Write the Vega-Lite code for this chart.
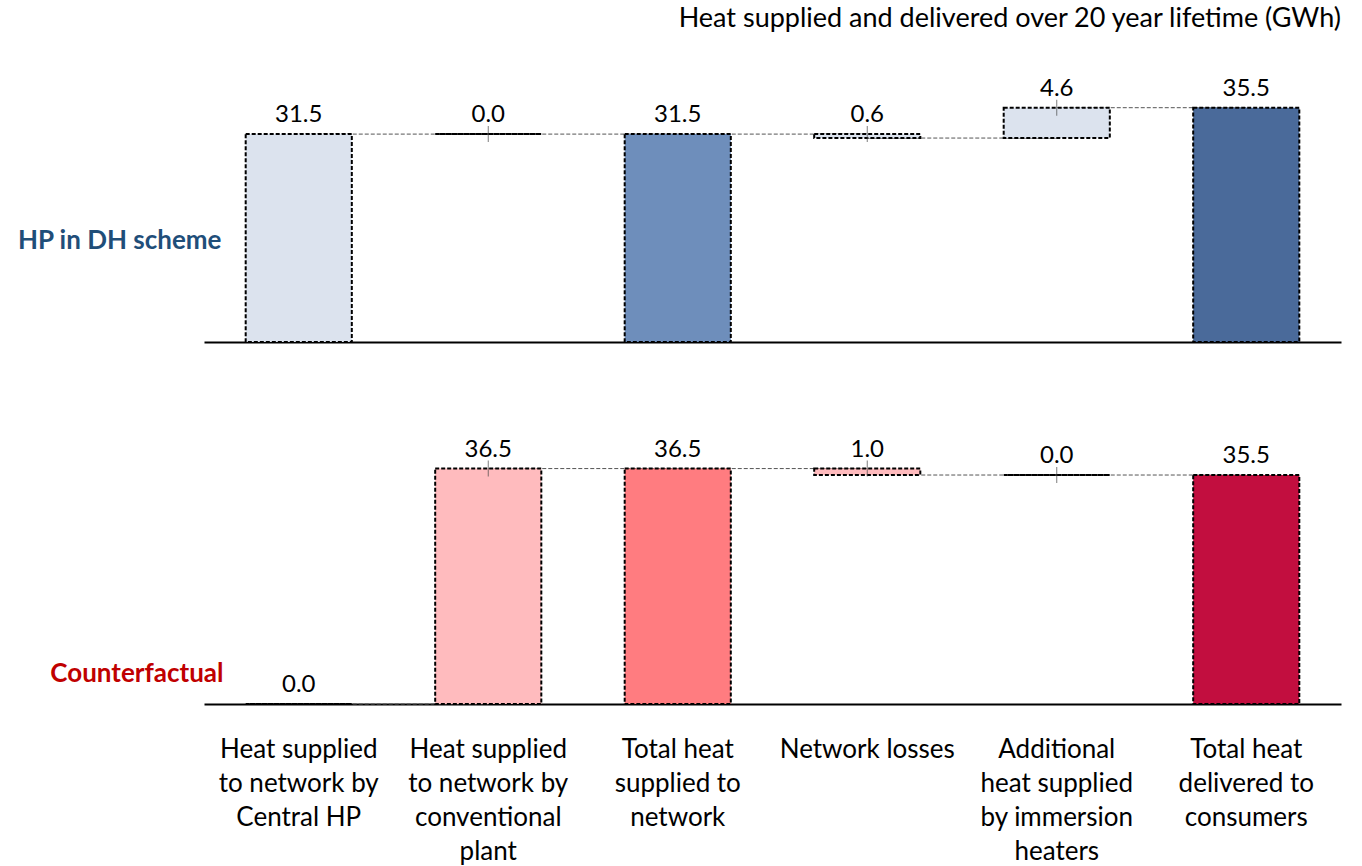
{
  "$schema": "https://vega.github.io/schema/vega-lite/v6.json",
  "padding": {"left": 16, "top": 4, "right": 20, "bottom": 5},
  "spacing": 94,
  "title": {"text": "Heat supplied and delivered over 20 year lifetime (GWh)", "anchor": "end", "fontSize": 27, "font": "Lato", "fontWeight": "normal", "color": "#000000", "offset": 44},
  "config": {"view": {"stroke": null}, "font": "Lato"},
  "data": {"values": [
    {"panel": "HP", "cat": "Heat supplied|to network by|Central HP", "next": "Heat supplied|to network by|conventional|plant", "start": 0, "end": 31.5, "top": 31.5, "label": "31.5", "kind": "HP step", "floating": "no"},
    {"panel": "HP", "cat": "Heat supplied|to network by|conventional|plant", "next": "Total heat|supplied to|network", "start": 31.5, "end": 31.5, "top": 31.5, "label": "0.0", "kind": "HP step", "floating": "yes"},
    {"panel": "HP", "cat": "Total heat|supplied to|network", "next": "Network losses", "start": 0, "end": 31.5, "top": 31.5, "label": "31.5", "kind": "HP subtotal", "floating": "no"},
    {"panel": "HP", "cat": "Network losses", "next": "Additional|heat supplied|by immersion|heaters", "start": 31.5, "end": 30.9, "top": 31.5, "label": "0.6", "kind": "HP step", "floating": "yes"},
    {"panel": "HP", "cat": "Additional|heat supplied|by immersion|heaters", "next": "Total heat|delivered to|consumers", "start": 30.9, "end": 35.5, "top": 35.5, "label": "4.6", "kind": "HP step", "floating": "yes"},
    {"panel": "HP", "cat": "Total heat|delivered to|consumers", "next": null, "start": 0, "end": 35.5, "top": 35.5, "label": "35.5", "kind": "HP total", "floating": "no"},
    {"panel": "CF", "cat": "Heat supplied|to network by|Central HP", "next": "Heat supplied|to network by|conventional|plant", "start": 0, "end": 0, "top": 0, "label": "0.0", "kind": "CF step", "floating": "no"},
    {"panel": "CF", "cat": "Heat supplied|to network by|conventional|plant", "next": "Total heat|supplied to|network", "start": 0, "end": 36.5, "top": 36.5, "label": "36.5", "kind": "CF step", "floating": "yes"},
    {"panel": "CF", "cat": "Total heat|supplied to|network", "next": "Network losses", "start": 0, "end": 36.5, "top": 36.5, "label": "36.5", "kind": "CF subtotal", "floating": "no"},
    {"panel": "CF", "cat": "Network losses", "next": "Additional|heat supplied|by immersion|heaters", "start": 36.5, "end": 35.5, "top": 36.5, "label": "1.0", "kind": "CF step", "floating": "yes"},
    {"panel": "CF", "cat": "Additional|heat supplied|by immersion|heaters", "next": "Total heat|delivered to|consumers", "start": 35.5, "end": 35.5, "top": 35.5, "label": "0.0", "kind": "CF step", "floating": "yes"},
    {"panel": "CF", "cat": "Total heat|delivered to|consumers", "next": null, "start": 0, "end": 35.5, "top": 35.5, "label": "35.5", "kind": "CF total", "floating": "no"}
  ]},
  "vconcat": [
    {
      "width": 1137,
      "height": 264,
      "transform": [{"filter": "datum.panel === 'HP'"}],
      "encoding": {
        "x": {"field": "cat", "type": "nominal", "sort": null,
          "scale": {"paddingInner": 0.44, "paddingOuter": 0.22},
          "axis": {"title": null, "labels": false, "ticks": false, "domain": true, "domainColor": "#000000", "domainWidth": 2}}
      },
      "layer": [
        {
          "transform": [{"filter": "datum.next != null"}],
          "mark": {"type": "rule", "color": "#555555", "strokeWidth": 1, "strokeDash": [4, 2]},
          "encoding": {
            "x2": {"field": "next"},
            "y": {"field": "end", "type": "quantitative", "scale": {"domain": [0, 40]},
              "axis": {"title": "HP in DH scheme", "labels": false, "ticks": false, "domain": false, "grid": false,
                "titleAngle": 0, "titleAlign": "right", "titleBaseline": "middle", "titleX": 17, "titleY": 162,
                "titleFontSize": 26, "titleFontWeight": "bold", "titleColor": "#1F4E79", "titleFont": "Lato"}}
          }
        },
        {
          "mark": {"type": "bar", "stroke": "#000000", "strokeWidth": 2, "strokeDash": [4, 2]},
          "encoding": {
            "y": {"field": "start", "type": "quantitative"},
            "y2": {"field": "end"},
            "color": {"field": "kind", "type": "nominal", "legend": null,
              "scale": {"domain": ["HP step", "HP subtotal", "HP total", "CF step", "CF subtotal", "CF total"],
                "range": ["#DCE3EE", "#6E8EBB", "#4A6A9A", "#FFBBBE", "#FF7C80", "#C20E3F"]}}
          }
        },
        {
          "transform": [{"filter": "datum.floating === 'yes'"}],
          "mark": {"type": "tick", "orient": "vertical", "size": 16, "thickness": 1, "color": "#444444"},
          "encoding": {"y": {"field": "top", "type": "quantitative"}}
        },
        {
          "mark": {"type": "text", "fontSize": 24, "font": "Lato", "color": "#000000", "baseline": "alphabetic", "dy": -12},
          "encoding": {
            "y": {"field": "top", "type": "quantitative"},
            "text": {"field": "label"}
          }
        }
      ]
    },
    {
      "width": 1137,
      "height": 258,
      "transform": [{"filter": "datum.panel === 'CF'"}],
      "encoding": {
        "x": {"field": "cat", "type": "nominal", "sort": null,
          "scale": {"paddingInner": 0.44, "paddingOuter": 0.22},
          "axis": {"title": null, "labels": true, "ticks": false, "domain": true, "domainColor": "#000000", "domainWidth": 2,
            "labelAngle": 0, "labelFontSize": 26, "labelFont": "Lato", "labelColor": "#000000", "labelLineHeight": 34,
            "labelPadding": 32, "labelExpr": "split(datum.label, '|')", "labelBaseline": "top"}}
      },
      "layer": [
        {
          "transform": [{"filter": "datum.next != null"}],
          "mark": {"type": "rule", "color": "#555555", "strokeWidth": 1, "strokeDash": [4, 2]},
          "encoding": {
            "x2": {"field": "next"},
            "y": {"field": "end", "type": "quantitative", "scale": {"domain": [0, 40]},
              "axis": {"title": "Counterfactual", "labels": false, "ticks": false, "domain": false, "grid": false,
                "titleAngle": 0, "titleAlign": "right", "titleBaseline": "middle", "titleX": 19, "titleY": 227,
                "titleFontSize": 26, "titleFontWeight": "bold", "titleColor": "#C00000", "titleFont": "Lato"}}
          }
        },
        {
          "mark": {"type": "bar", "stroke": "#000000", "strokeWidth": 2, "strokeDash": [4, 2]},
          "encoding": {
            "y": {"field": "start", "type": "quantitative"},
            "y2": {"field": "end"},
            "color": {"field": "kind", "type": "nominal", "legend": null,
              "scale": {"domain": ["HP step", "HP subtotal", "HP total", "CF step", "CF subtotal", "CF total"],
                "range": ["#DCE3EE", "#6E8EBB", "#4A6A9A", "#FFBBBE", "#FF7C80", "#C20E3F"]}}
          }
        },
        {
          "transform": [{"filter": "datum.floating === 'yes'"}],
          "mark": {"type": "tick", "orient": "vertical", "size": 16, "thickness": 1, "color": "#444444"},
          "encoding": {"y": {"field": "top", "type": "quantitative"}}
        },
        {
          "mark": {"type": "text", "fontSize": 24, "font": "Lato", "color": "#000000", "baseline": "alphabetic", "dy": -12},
          "encoding": {
            "y": {"field": "top", "type": "quantitative"},
            "text": {"field": "label"}
          }
        }
      ]
    }
  ]
}
